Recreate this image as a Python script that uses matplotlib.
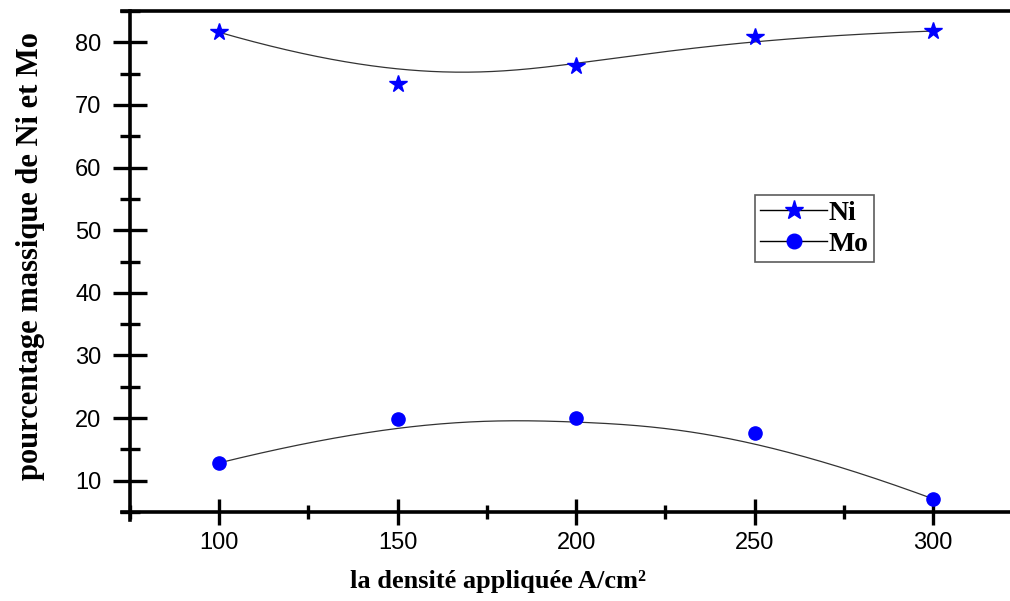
import numpy as np
import matplotlib.pyplot as plt
from matplotlib.ticker import MultipleLocator

# =========================
# DATA
# =========================

densite = [100, 150, 200, 250, 300]
ni = [81.6, 73.4, 76.2, 80.8, 81.8]
mo = [12.85, 19.85, 20.0, 17.6, 7.1]


# clamped cubic B-spline (data points used as control points, like Origin "B-Spline")
def bspline(xp, yp, n=300, k=3):
    pts = np.column_stack([xp, yp]).astype(float)
    m = len(pts)
    inner = np.linspace(0, 1, m - k + 1)
    knots = np.concatenate([[0] * k, inner, [1] * k])
    u = np.linspace(0, 1, n)
    u[-1] = 1 - 1e-12

    def basis(i, d, t):
        if d == 0:
            return ((knots[i] <= t) & (t < knots[i + 1])).astype(float)
        a = 0.0
        b = 0.0
        if knots[i + d] != knots[i]:
            a = (t - knots[i]) / (knots[i + d] - knots[i]) * basis(i, d - 1, t)
        if knots[i + d + 1] != knots[i + 1]:
            b = (knots[i + d + 1] - t) / (knots[i + d + 1] - knots[i + 1]) * basis(i + 1, d - 1, t)
        return a + b

    curve = sum(basis(i, k, u)[:, None] * pts[i] for i in range(m))
    return curve[:, 0], curve[:, 1]


# =========================
# FIGURE
# =========================

fig = plt.figure(figsize=(10.1, 6.01), dpi=100)
ax = fig.add_axes([0.1287, 0.148, 0.8713, 0.8337])

for y, mk, ms, lab in [(ni, '*', 13, 'Ni'), (mo, 'o', 9.5, 'Mo')]:
    cx, cy = bspline(densite, y)
    ax.plot(cx, cy, color='#333333', lw=0.9, zorder=2)
    ax.plot(densite, y, linestyle='none', marker=mk, ms=ms,
            mfc='blue', mec='blue', zorder=3)
    # legend proxy
    ax.plot([], [], color='black', lw=1.0, marker=mk, ms=ms + 1,
            mfc='blue', mec='blue', label=lab)

ax.set_xlim(75, 321.5)
ax.set_ylim(5, 85)

ax.xaxis.set_major_locator(MultipleLocator(50))
ax.xaxis.set_minor_locator(MultipleLocator(25))
ax.yaxis.set_major_locator(MultipleLocator(10))
ax.yaxis.set_minor_locator(MultipleLocator(5))
ax.set_yticks(range(10, 81, 10))
ax.set_xticks(range(100, 301, 50))

ax.spines['right'].set_visible(False)
for s in ['left', 'bottom', 'top']:
    ax.spines[s].set_linewidth(2.6)
ax.spines['left'].set_bounds(3.7, 85)
ax.spines['bottom'].set_bounds(72.7, 330)
ax.spines['top'].set_bounds(72.7, 330)

ax.tick_params(axis='y', which='major', direction='inout', length=25, width=2.4,
               labelsize=17, pad=8)
ax.tick_params(axis='y', which='minor', direction='inout', length=14, width=2.4)
ax.tick_params(axis='x', which='major', direction='inout', length=19, width=2.4,
               labelsize=17, pad=5)
ax.tick_params(axis='x', which='minor', direction='inout', length=10, width=2.4)
for lbl in ax.get_xticklabels() + ax.get_yticklabels():
    lbl.set_fontfamily('Liberation Sans')

ax.set_xlabel('la densité appliquée A/cm²', fontfamily='Liberation Serif',
              fontweight='bold', fontsize=19, labelpad=11)
ax.xaxis.set_label_coords(0.418, -0.115)
ax.set_ylabel('pourcentage massique de Ni et Mo', fontfamily='Liberation Serif',
              fontweight='bold', fontsize=22, labelpad=10)
ax.yaxis.set_label_coords(-0.097, 0.51)

leg = ax.legend(loc='upper left', bbox_to_anchor=(0.71, 0.633),
                prop={'family': 'Liberation Serif', 'weight': 'bold', 'size': 20},
                frameon=True, fancybox=False, handlelength=2.4, handletextpad=0.05,
                borderpad=0.2, labelspacing=0.2, borderaxespad=0)
leg.get_frame().set_edgecolor('#333333')
leg.get_frame().set_linewidth(1.2)

fig.savefig('out.png', dpi=100)
